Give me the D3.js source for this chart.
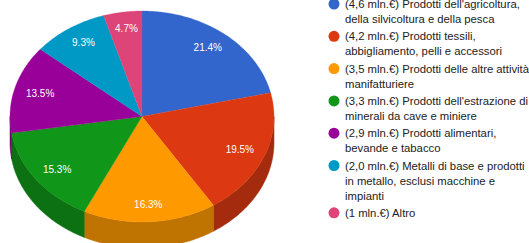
<!DOCTYPE html>
<html><head><meta charset="utf-8">
<script src="https://cdn.jsdelivr.net/npm/d3@7"></script>
<style>body{margin:0;background:#fff;overflow:hidden}svg{display:block}</style>
</head><body>
<script>
const categories = [
  "(4,6 mln.€) Prodotti dell'agricoltura,|della silvicoltura e della pesca",
  "(4,2 mln.€) Prodotti tessili,|abbigliamento, pelli e accessori",
  "(3,5 mln.€) Prodotti delle altre attività|manifatturiere",
  "(3,3 mln.€) Prodotti dell'estrazione di|minerali da cave e miniere",
  "(2,9 mln.€) Prodotti alimentari,|bevande e tabacco",
  "(2,0 mln.€) Metalli di base e prodotti|in metallo, esclusi macchine e|impianti",
  "(1 mln.€) Altro"
];
const values = [21.4, 19.5, 16.3, 15.3, 13.5, 9.3, 4.7];
const colors = ["#3366cc", "#dc3912", "#ff9900", "#109618", "#990099", "#0099c6", "#dd4477"];

const W = 529, H = 243;
const cx = 142, cy = 116.5, rx = 132, ry = 105.5, depth = 26;

const svg = d3.select("body").append("svg").attr("width", W).attr("height", H);

const pie = d3.pie().sort(null).value(d => d)(values);
const pt = (a, dy = 0) => [cx + rx * Math.sin(a), cy - ry * Math.cos(a) + dy];

function arcPts(a0, a1, dy) {
  const n = Math.max(2, Math.ceil(Math.abs(a1 - a0) / 0.02));
  return d3.range(n + 1).map(i => pt(a0 + (a1 - a0) * i / n, dy));
}

const dark = c => { const k = d3.rgb(c); return d3.rgb(k.r * 0.75, k.g * 0.75, k.b * 0.75).toString(); };

// sides (front half: angles PI/2 .. 3PI/2)
const gSide = svg.append("g");
pie.forEach((p, i) => {
  const a0 = Math.max(p.startAngle, Math.PI / 2), a1 = Math.min(p.endAngle, 3 * Math.PI / 2);
  if (a1 <= a0) return;
  const top = arcPts(a0, a1, 0), bot = arcPts(a1, a0, depth);
  gSide.append("path").attr("d", d3.line()(top.concat(bot)) + "Z")
    .attr("fill", dark(colors[i])).attr("stroke", dark(colors[i])).attr("stroke-width", 0.5);
});

// tops
const gTop = svg.append("g");
pie.forEach((p, i) => {
  const pts = [[cx, cy]].concat(arcPts(p.startAngle, p.endAngle, 0));
  gTop.append("path").attr("d", d3.line()(pts) + "Z")
    .attr("fill", colors[i]).attr("stroke", colors[i]).attr("stroke-width", 0.3);
});

// labels
const fmt = d3.format(".1f");
pie.forEach((p, i) => {
  const m = (p.startAngle + p.endAngle) / 2;
  svg.append("text")
    .attr("x", cx + rx * 0.8 * Math.sin(m))
    .attr("y", cy - ry * 0.84 * Math.cos(m))
    .attr("dy", "0.35em")
    .attr("text-anchor", "middle")
    .attr("font-family", "Liberation Sans, Arial, sans-serif")
    .attr("font-size", 10).attr("fill", "#fff")
    .text(fmt(values[i]) + "%");
});

// legend
const lg = svg.append("g").attr("font-family", "Liberation Sans, Arial, sans-serif").attr("font-size", 11.3).attr("fill", "#222");
let y = 4;
categories.forEach((c, i) => {
  const lines = c.split("|");
  lg.append("circle").attr("cx", 334).attr("cy", y).attr("r", 5.5).attr("fill", colors[i]);
  lines.forEach((l, j) => {
    lg.append("text").attr("x", 345).attr("y", y + j * 15).attr("dy", "0.36em").text(l);
  });
  y += lines.length * 15 + 2.3;
});
</script>
</body></html>
